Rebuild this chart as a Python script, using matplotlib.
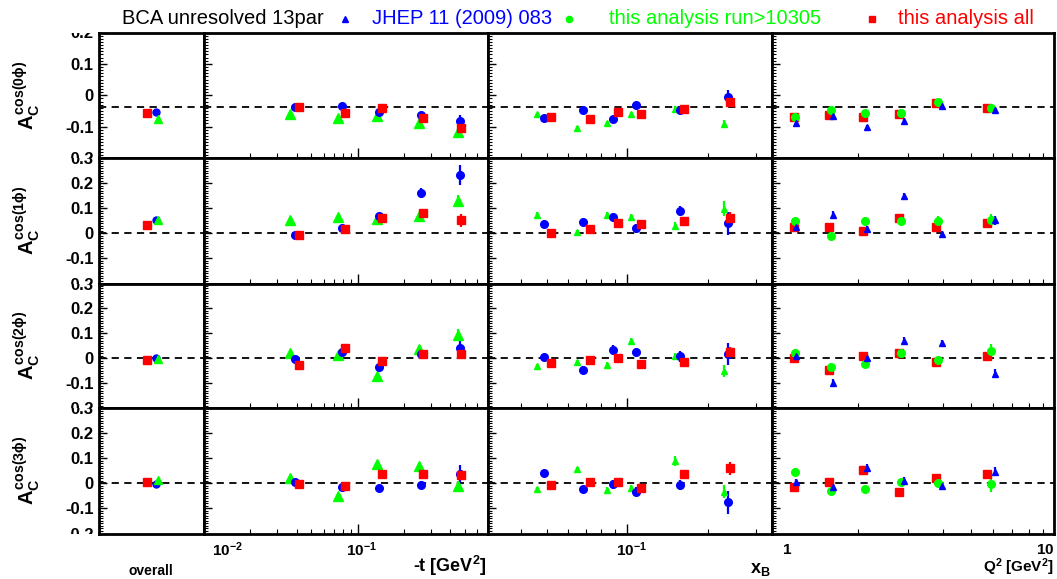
import matplotlib
matplotlib.use("Agg")
import matplotlib.pyplot as plt
from matplotlib.lines import Line2D
from matplotlib.ticker import MultipleLocator, NullFormatter, FuncFormatter
from matplotlib.transforms import Bbox, TransformedBbox

plt.rcParams['font.family'] = ['Liberation Sans', 'DejaVu Sans']
plt.rcParams['mathtext.fontset'] = 'custom'
plt.rcParams['mathtext.rm'] = 'Liberation Sans:bold'
plt.rcParams['mathtext.it'] = 'Liberation Sans:bold'
plt.rcParams['mathtext.bf'] = 'Liberation Sans:bold'
plt.rcParams['mathtext.sf'] = 'Liberation Sans:bold'

HARMONICS = ["0", "1", "2", "3"]
REF_LINE = [-0.0376, 0.0, 0.0, 0.0]
YLIMS = [(-0.2, 0.2), (-0.2, 0.3), (-0.2, 0.3), (-0.2, 0.3)]

# overall
ov_jhep = [-0.054, 0.053, -0.001, -0.004]
ov_run = [-0.075, 0.053, -0.004, 0.013]
ov_all = [-0.058, 0.033, -0.007, 0.005]
ov_jhep_err = [0.005, 0.006, 0.005, 0.005]
ov_run_err = [0.004, 0.004, 0.004, 0.004]
ov_all_err = [0.003, 0.003, 0.003, 0.003]

# -t bins
t_x_jhep = [0.0390, 0.0784, 0.1382, 0.257, 0.460]
t_x_run = [0.0363, 0.0746, 0.1335, 0.251, 0.449]
t_x_all = [0.0414, 0.0825, 0.1440, 0.264, 0.467]
t_jhep = [[-0.0375, -0.035, -0.053, -0.063, -0.082],
          [-0.007, 0.020, 0.069, 0.160, 0.233],
          [-0.004, 0.023, -0.036, 0.017, 0.040],
          [0.004, -0.013, -0.020, -0.007, 0.036]]
t_run = [[-0.060, -0.071, -0.067, -0.087, -0.117],
         [0.053, 0.063, 0.056, 0.069, 0.129],
         [0.020, 0.013, -0.071, 0.036, 0.093],
         [0.020, -0.051, 0.076, 0.067, -0.009]]
t_all = [[-0.0375, -0.058, -0.040, -0.071, -0.105],
         [-0.007, 0.016, 0.060, 0.080, 0.051],
         [-0.027, 0.039, -0.013, 0.017, 0.016],
         [-0.003, -0.011, 0.037, 0.037, 0.032]]
t_jhep_err = [[0.006, 0.007, 0.008, 0.010, 0.018],
              [0.012, 0.015, 0.012, 0.020, 0.040],
              [0.010, 0.012, 0.015, 0.015, 0.035],
              [0.010, 0.015, 0.012, 0.015, 0.035]]
t_run_err = [[0.005, 0.006, 0.007, 0.008, 0.012],
             [0.006, 0.007, 0.008, 0.012, 0.025],
             [0.006, 0.007, 0.008, 0.010, 0.025],
             [0.006, 0.007, 0.008, 0.010, 0.020]]
t_all_err = [[0.004, 0.005, 0.005, 0.007, 0.010],
             [0.005, 0.006, 0.007, 0.012, 0.027],
             [0.005, 0.006, 0.007, 0.010, 0.020],
             [0.005, 0.006, 0.007, 0.010, 0.020]]

# x_B bins
xb_x_jhep = [0.0489, 0.0685, 0.0882, 0.1075, 0.1565, 0.2358]
xb_x_run = [0.0462, 0.0649, 0.0841, 0.1032, 0.1507, 0.2285]
xb_x_all = [0.0521, 0.0723, 0.0924, 0.1124, 0.1625, 0.2419]
xb_jhep = [[-0.071, -0.048, -0.076, -0.030, -0.046, -0.006],
           [0.036, 0.044, 0.064, 0.020, 0.089, 0.040],
           [0.004, -0.047, 0.033, 0.023, 0.007, 0.016],
           [0.040, -0.024, -0.004, -0.033, -0.007, -0.076]]
xb_run = [[-0.061, -0.104, -0.0875, -0.059, -0.043, -0.092],
          [0.073, 0.004, 0.073, 0.063, 0.031, 0.097],
          [-0.033, -0.017, -0.027, 0.069, 0.007, -0.051],
          [-0.023, 0.056, -0.027, -0.020, 0.089, -0.033]]
xb_all = [[-0.070, -0.077, -0.052, -0.059, -0.045, -0.023],
          [0.000, 0.017, 0.041, 0.039, 0.048, 0.060],
          [-0.020, -0.007, 0.000, -0.024, -0.017, 0.023],
          [-0.005, 0.007, 0.004, -0.017, 0.036, 0.060]]
xb_jhep_err = [[0.008, 0.008, 0.008, 0.010, 0.012, 0.024],
               [0.015, 0.015, 0.015, 0.018, 0.020, 0.045],
               [0.012, 0.015, 0.020, 0.018, 0.022, 0.045],
               [0.012, 0.015, 0.018, 0.018, 0.020, 0.045]]
xb_run_err = [[0.005, 0.006, 0.006, 0.007, 0.008, 0.012],
              [0.010, 0.010, 0.012, 0.012, 0.015, 0.030],
              [0.010, 0.010, 0.012, 0.012, 0.015, 0.025],
              [0.010, 0.010, 0.012, 0.012, 0.020, 0.025]]
xb_all_err = [[0.005, 0.005, 0.006, 0.006, 0.008, 0.012],
              [0.008, 0.008, 0.010, 0.012, 0.012, 0.025],
              [0.008, 0.008, 0.010, 0.010, 0.012, 0.020],
              [0.008, 0.008, 0.010, 0.010, 0.012, 0.025]]

# Q^2 bins
q_x_jhep = [1.213, 1.634, 2.154, 2.901, 3.965, 6.104]
q_x_run = [1.206, 1.615, 2.123, 2.842, 3.848, 5.889]
q_x_all = [1.199, 1.590, 2.091, 2.791, 3.758, 5.716]
q_jhep = [[-0.0875, -0.067, -0.102, -0.081, -0.033, -0.048],
          [0.027, 0.073, 0.016, 0.147, -0.004, 0.051],
          [0.007, -0.100, -0.001, 0.069, 0.060, -0.063],
          [0.004, -0.016, 0.060, 0.011, -0.009, 0.047]]
q_run = [[-0.070, -0.048, -0.058, -0.058, -0.022, -0.040],
         [0.049, -0.012, 0.049, 0.049, 0.049, 0.053],
         [0.020, -0.036, -0.024, 0.020, -0.009, 0.029],
         [0.047, -0.029, -0.023, 0.004, 0.003, -0.003]]
q_all = [[-0.070, -0.064, -0.069, -0.059, -0.025, -0.040],
         [0.027, 0.024, 0.011, 0.060, 0.027, 0.040],
         [0.000, -0.049, 0.007, 0.020, -0.016, 0.007],
         [-0.016, 0.004, 0.051, -0.036, 0.020, 0.037]]
q_jhep_err = [[0.008, 0.008, 0.008, 0.008, 0.010, 0.012],
              [0.012, 0.015, 0.015, 0.015, 0.015, 0.018],
              [0.012, 0.015, 0.015, 0.015, 0.015, 0.018],
              [0.012, 0.015, 0.015, 0.015, 0.015, 0.018]]
q_run_err = [[0.006, 0.006, 0.006, 0.006, 0.010, 0.012],
             [0.012, 0.012, 0.015, 0.015, 0.018, 0.025],
             [0.012, 0.012, 0.015, 0.015, 0.018, 0.030],
             [0.012, 0.012, 0.015, 0.015, 0.018, 0.030]]
q_all_err = [[0.005, 0.005, 0.006, 0.006, 0.008, 0.010],
             [0.010, 0.010, 0.010, 0.010, 0.012, 0.015],
             [0.010, 0.010, 0.010, 0.010, 0.012, 0.015],
             [0.010, 0.010, 0.010, 0.012, 0.012, 0.015]]

BLUE = '#0000ff'
GREEN = '#00ff00'
RED = '#ff0000'

W, H = 1057, 579
COL_EDGES = [99.4, 203.9, 487.8, 771.9, 1054.0]
ROW_EDGES = [32.5, 158.0, 283.5, 408.0, 533.5]
OV_POS = {'all': 0.46, 'jhep': 0.54, 'run': 0.56}


def make_ax(fig, c, r):
    left = COL_EDGES[c] / W
    width = (COL_EDGES[c + 1] - COL_EDGES[c]) / W
    bottom = 1 - ROW_EDGES[r + 1] / H
    height = (ROW_EDGES[r + 1] - ROW_EDGES[r]) / H
    ax = fig.add_axes([left, bottom, width, height])
    for sp in ax.spines.values():
        sp.set_linewidth(2.0)
    return ax


def draw_series(ax, x, y, err, color, marker, ms):
    ax.errorbar(x, y, yerr=err, fmt=marker, color=color, mec=color, ms=ms,
                elinewidth=1.6, capsize=0, zorder=3)


def ylabel_fmt(v, pos):
    if abs(v) < 1e-9:
        return '0'
    return '%.1f' % v


def style_y(ax, r, labels):
    ax.set_ylim(*YLIMS[r])
    ax.yaxis.set_major_locator(MultipleLocator(0.1))
    ax.yaxis.set_minor_locator(MultipleLocator(0.01))
    ax.yaxis.set_major_formatter(FuncFormatter(ylabel_fmt))
    ax.tick_params(axis='y', which='both', direction='in', right=False,
                   labelleft=labels, labelsize=12, pad=4)
    ax.tick_params(axis='y', which='major', length=5.5, width=1.0)
    ax.tick_params(axis='y', which='minor', length=2.8, width=0.8)
    for lab in ax.get_yticklabels():
        lab.set_fontweight('bold')


def style_logx(ax, lims):
    ax.set_xscale('log')
    ax.set_xlim(*lims)
    ax.xaxis.set_minor_formatter(NullFormatter())
    ax.tick_params(axis='x', which='both', direction='in', top=False,
                   labelbottom=False)
    ax.tick_params(axis='x', which='major', length=7, width=1.0)
    ax.tick_params(axis='x', which='minor', length=3.5, width=0.8)


def xtick_text(ax, value, text, dx, ha):
    ax.annotate(text, xy=(value, 0), xycoords=('data', 'axes fraction'),
                xytext=(dx, -12), textcoords='offset points', ha=ha,
                va='center', fontsize=11, fontweight='bold',
                annotation_clip=False)


def main():
    fig = plt.figure(figsize=(W / 100, H / 100), dpi=100)
    ov_axes = []
    for r in range(4):
        # overall panel
        ax = make_ax(fig, 0, r)
        ax.set_xlim(0, 1)
        ax.set_xticks([])
        style_y(ax, r, True)
        ax.axhline(REF_LINE[r], color='k', ls=(0, (4, 3)), lw=1.3, zorder=1)
        draw_series(ax, [OV_POS['all']], [ov_all[r]], [ov_all_err[r]], RED, 's', 5.5)
        draw_series(ax, [OV_POS['jhep']], [ov_jhep[r]], [ov_jhep_err[r]], BLUE, 'o', 5)
        draw_series(ax, [OV_POS['run']], [ov_run[r]], [ov_run_err[r]], GREEN, '^', 5.5)
        ov_axes.append(ax)

        # -t panel
        ax = make_ax(fig, 1, r)
        style_logx(ax, (0.01, 0.70))
        style_y(ax, r, False)
        ax.axhline(REF_LINE[r], color='k', ls=(0, (4, 3)), lw=1.3, zorder=1)
        draw_series(ax, t_x_run, t_run[r], t_run_err[r], GREEN, '^', 7)
        draw_series(ax, t_x_jhep, t_jhep[r], t_jhep_err[r], BLUE, 'o', 5.5)
        draw_series(ax, t_x_all, t_all[r], t_all_err[r], RED, 's', 5.5)
        if r == 3:
            xtick_text(ax, 0.01, r'$10^{-2}$', 6, 'left')
            xtick_text(ax, 0.1, r'$10^{-1}$', 3, 'center')

        # x_B panel
        ax = make_ax(fig, 2, r)
        style_logx(ax, (0.0302, 0.345))
        style_y(ax, r, False)
        ax.axhline(REF_LINE[r], color='k', ls=(0, (4, 3)), lw=1.3, zorder=1)
        draw_series(ax, xb_x_run, xb_run[r], xb_run_err[r], GREEN, '^', 5)
        draw_series(ax, xb_x_jhep, xb_jhep[r], xb_jhep_err[r], BLUE, 'o', 5.5)
        draw_series(ax, xb_x_all, xb_all[r], xb_all_err[r], RED, 's', 5.5)
        if r == 3:
            xtick_text(ax, 0.1, r'$10^{-1}$', 3, 'center')

        # Q^2 panel
        ax = make_ax(fig, 3, r)
        style_logx(ax, (1.0, 9.8))
        style_y(ax, r, False)
        ax.axhline(REF_LINE[r], color='k', ls=(0, (4, 3)), lw=1.3, zorder=1)
        draw_series(ax, q_x_all, q_all[r], q_all_err[r], RED, 's', 5.5)
        draw_series(ax, q_x_run, q_run[r], q_run_err[r], GREEN, 'o', 5.5)
        draw_series(ax, q_x_jhep, q_jhep[r], q_jhep_err[r], BLUE, '^', 5)
        if r == 3:
            xtick_text(ax, 1.0, r'$1$', 7, 'left')
            xtick_text(ax, 9.8, r'$10$', 0, 'right')

        fig.text(27 / W, 1 - (ROW_EDGES[r] + ROW_EDGES[r + 1]) / 2 / H,
                 r'$A_C^{cos(%s\phi)}$' % HARMONICS[r], rotation=90,
                 ha='center', va='center', fontsize=14.5)

    # clip y labels to their own row, like the ROOT pads
    fig.canvas.draw()
    for ax in ov_axes:
        box = TransformedBbox(Bbox([[-3, 0], [0.5, 1]]), ax.transAxes)
        for lab in ax.get_yticklabels():
            lab.set_clip_box(box)
            lab.set_clip_on(True)

    # axis titles
    fig.text(151 / W, 1 - 571 / H, 'overall', ha='center', va='center',
             fontsize=10, fontweight='bold')
    fig.text(487 / W, 1 - 566 / H, r'-t [GeV$^2$]', ha='right', va='center',
             fontsize=13, fontweight='bold')
    fig.text(771 / W, 1 - 569 / H, r'x$_B$', ha='right', va='center',
             fontsize=13, fontweight='bold')
    fig.text(1054 / W, 1 - 567 / H, r'Q$^2$ [GeV$^2$]', ha='right', va='center',
             fontsize=11, fontweight='bold')

    # legend row
    ly = 1 - 18.5 / H
    fig.text(122 / W, ly, 'BCA unresolved 13par', color='black', fontsize=14.5,
             va='center', ha='left')
    fig.add_artist(Line2D([345 / W], [ly], marker='^', ms=5, color=BLUE,
                          transform=fig.transFigure))
    fig.text(372 / W, ly, 'JHEP 11 (2009) 083', color=BLUE, fontsize=14.5,
             va='center', ha='left')
    fig.add_artist(Line2D([569 / W], [ly], marker='o', ms=4.5, color=GREEN,
                          transform=fig.transFigure))
    fig.text(609 / W, ly, 'this analysis run>10305', color=GREEN, fontsize=14.5,
             va='center', ha='left')
    fig.add_artist(Line2D([872 / W], [ly], marker='s', ms=5, color=RED,
                          transform=fig.transFigure))
    fig.text(898 / W, ly, 'this analysis all', color=RED, fontsize=14.5,
             va='center', ha='left')

    fig.savefig('out.png', dpi=100)


if __name__ == '__main__':
    main()
